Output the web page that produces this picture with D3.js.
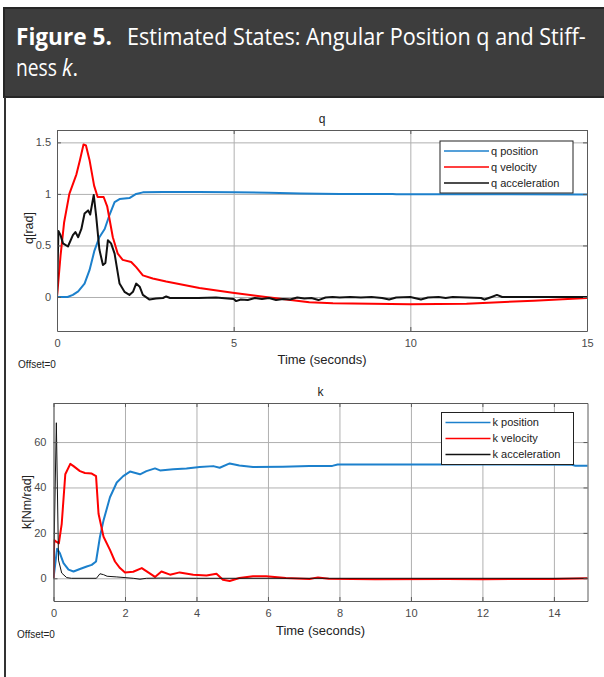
<!DOCTYPE html>
<html>
<head>
<meta charset="utf-8">
<script src="https://cdn.jsdelivr.net/npm/d3@7"></script>
<style>
  html, body { margin: 0; padding: 0; background: #fff; }
  svg { display: block; }
  .tick text { font-family: "Liberation Sans", Arial, sans-serif; font-size: 11px; fill: #4a4a4a; }
</style>
</head>
<body>
<script>
// q panel: [time (s), value]
const qPosition = [[0,0],[0.3,0],[0.45,0.02],[0.6,0.055],[0.78,0.13],[0.92,0.26],[1.06,0.45],[1.2,0.58],
  [1.35,0.66],[1.49,0.8],[1.63,0.92],[1.77,0.95],[2.05,0.96],[2.24,1.0],[2.43,1.015],[3,1.018],[4,1.018],
  [5,1.015],[6,1.012],[6.9,1.005],[8,1.0],[9.5,1.0],[9.6,0.997],[12,0.997],[15,0.995]];
const qVelocity = [[0,0],[0.1,0.4],[0.2,0.72],[0.35,1.0],[0.55,1.19],[0.65,1.33],[0.75,1.48],[0.82,1.47],
  [0.92,1.33],[1.05,1.08],[1.15,0.97],[1.32,0.97],[1.42,0.88],[1.58,0.58],[1.72,0.42],[1.86,0.36],[2.1,0.34],
  [2.24,0.29],[2.43,0.21],[2.71,0.18],[3.09,0.15],[4.03,0.087],[4.97,0.04],[5.91,0.0],[7.14,-0.05],
  [7.81,-0.06],[10,-0.07],[11.59,-0.065],[13.5,-0.036],[15,-0.01]];
const qAcceleration = [[0,0],[0.04,0.64],[0.1,0.6],[0.17,0.52],[0.31,0.49],[0.45,0.6],[0.52,0.63],[0.6,0.58],
  [0.69,0.66],[0.78,0.81],[0.88,0.84],[0.94,0.8],[1.04,0.99],[1.11,0.78],[1.2,0.46],[1.3,0.31],[1.37,0.33],
  [1.44,0.55],[1.53,0.52],[1.63,0.42],[1.77,0.13],[1.91,0.05],[2.05,0.02],[2.15,0.05],[2.24,0.13],[2.34,0.1],
  [2.43,0.02],[2.62,-0.025],[2.8,-0.015],[3.0,-0.01],[3.09,0.005],[3.2,-0.01],[4.0,-0.01],[4.5,-0.005],
  [5.0,-0.02],[5.07,-0.04],[5.2,-0.025],[5.4,-0.03],[5.6,-0.01],[5.8,-0.02],[6.0,-0.01],[6.2,-0.03],
  [6.4,-0.02],[6.6,-0.025],[6.8,-0.005],[7.0,-0.015],[7.2,-0.01],[7.4,-0.03],[7.6,-0.005],[7.8,0.0],
  [8.0,-0.005],[8.3,0.0],[8.6,-0.005],[8.9,0.0],[9.2,-0.01],[9.4,-0.025],[9.6,-0.005],[10.0,0.0],
  [10.3,-0.025],[10.5,-0.005],[10.8,0.0],[11.0,-0.01],[11.2,0.0],[11.6,-0.005],[12.0,-0.01],[12.1,-0.025],
  [12.3,0.0],[12.45,0.02],[12.6,0.0],[15,0.0]];

// k panel: [time (s), value]
const kPosition = [[0,0],[0.1,13],[0.18,11],[0.28,6.7],[0.42,3.8],[0.56,3.0],[0.74,4.1],[0.93,5.2],[1.07,5.9],
  [1.19,7.4],[1.3,18.3],[1.4,25.5],[1.58,35.7],[1.77,42.2],[1.95,45],[2.14,47],[2.42,45.8],[2.6,47.2],
  [2.84,48.4],[2.98,47.5],[3.35,48],[3.72,48.4],[4.09,49],[4.47,49.4],[4.65,48.7],[4.93,50.6],[5.2,49.7],
  [5.58,49],[6.42,49.1],[7.16,49.4],[7.8,49.5],[7.95,50.1],[10,50.1],[12,50.1],[14.5,50.0],[14.6,49.6],[15,49.6]];
const kVelocity = [[0,0],[0.02,16.8],[0.09,16],[0.15,15.4],[0.23,24],[0.33,45.8],[0.47,50.4],[0.56,49.4],
  [0.74,47.2],[0.88,46.4],[1.07,46.1],[1.19,45],[1.26,28.4],[1.4,18.3],[1.58,12.5],[1.72,7.4],[1.86,4.5],
  [2.0,2.6],[2.23,2.9],[2.47,4.5],[2.65,2.6],[2.84,0.6],[3.02,3],[3.26,1.6],[3.53,2.6],[3.91,1.6],[4.28,1.2],
  [4.56,2],[4.74,-0.6],[4.93,-1.2],[5.2,0.1],[5.58,0.9],[5.95,0.9],[6.5,0.1],[7.16,-0.3],[7.4,0.4],[7.7,-0.2],
  [9,-0.4],[11,-0.3],[12,-0.4],[14,-0.3],[15,0]];
const kAcceleration = [[0,0],[0.08,68.5],[0.14,8],[0.23,2.3],[0.37,0.3],[0.5,0],[1.2,0],[1.3,2],[1.4,1.6],
  [1.5,0.9],[1.77,0.6],[2.23,0],[2.42,-0.4],[2.6,0],[3,0.1],[4,0],[6,0],[10,0],[15,0]];

const Q_X_TICKS = [0, 5, 10, 15];
const Q_Y_TICKS = [0, 0.5, 1, 1.5];
const K_X_TICKS = [0, 2, 4, 6, 8, 10, 12, 14];
const K_Y_TICKS = [0, 20, 40, 60];
const Q_LABELS = ["q position", "q velocity", "q acceleration"];
const K_LABELS = ["k position", "k velocity", "k acceleration"];

(function () {
  const W = 604, H = 677;
  const BLUE = "#1c80cc", RED = "#ff0000", BLACK = "#111";
  const FONT = "'Liberation Sans', Arial, sans-serif";

  const svg = d3.select("body").append("svg").attr("width", W).attr("height", H);

  // Figure caption header
  svg.append("rect").attr("x", 4).attr("y", 8).attr("width", W + 10).attr("height", 89)
    .attr("fill", "#3d3d3d").attr("stroke", "#262626").attr("stroke-width", 2);
  svg.append("line").attr("x1", 5).attr("x2", 5).attr("y1", 97).attr("y2", H)
    .attr("stroke", "#333").attr("stroke-width", 2);

  // caption pieces squeezed horizontally to the reference widths
  const cap = svg.append("g").attr("fill", "#fff").attr("font-family", "'Open Sans', 'Noto Sans', sans-serif")
    .attr("font-size", 23);
  function capText(x, y, width, build) {
    const g = cap.append("g");
    const t = g.append("text");
    build(t);
    const natural = t.node().getComputedTextLength();
    g.attr("transform", `translate(${x},${y}) scale(${width / natural},1)`);
  }
  capText(16, 45, 96, t => t.attr("font-weight", "bold").text("Figure 5."));
  capText(127, 45, 459, t => t.text("Estimated States: Angular Position q and Stiff-"));
  capText(16, 76, 41, t => t.text("ness"));
  capText(62, 76, 16, t => t.append("tspan").attr("font-style", "italic").text("k")
    .select(function () { return this.parentNode; }).append("tspan").text("."));

  function panel(cfg) {
    const { left, right, top, bottom } = cfg.box;
    const x = d3.scaleLinear().domain(cfg.xDomain).range([left, right]);
    const y = d3.scaleLinear().domain(cfg.yDomain).range([bottom, top]);
    const g = svg.append("g");

    g.append("rect").attr("x", left).attr("y", top).attr("width", right - left).attr("height", bottom - top)
      .attr("fill", "#fff");

    // Grid
    g.append("g").attr("transform", `translate(0,${bottom})`)
      .call(d3.axisBottom(x).tickValues(cfg.xTicks).tickSize(-(bottom - top)).tickFormat(""))
      .call(s => s.select(".domain").remove())
      .call(s => s.selectAll("line").attr("stroke", "#b0b0b0"));
    g.append("g").attr("transform", `translate(${left},0)`)
      .call(d3.axisLeft(y).tickValues(cfg.yTicks).tickSize(-(right - left)).tickFormat(""))
      .call(s => s.select(".domain").remove())
      .call(s => s.selectAll("line").attr("stroke", "#b0b0b0"));

    // Series
    const clipId = "clip-" + cfg.title;
    svg.append("clipPath").attr("id", clipId).append("rect")
      .attr("x", left).attr("y", top).attr("width", right - left).attr("height", bottom - top);
    const line = d3.line().x(d => x(d[0])).y(d => y(d[1]));
    g.append("g").attr("clip-path", `url(#${clipId})`)
      .selectAll("path").data(cfg.series).join("path")
      .attr("d", d => line(d.data)).attr("fill", "none")
      .attr("stroke", d => d.color).attr("stroke-width", d => d.width)
      .attr("stroke-linejoin", "round");

    // Axes with inward ticks on all sides
    const styleAx = s => {
      s.select(".domain").attr("stroke", "#5a5a5a");
      s.selectAll(".tick line").attr("stroke", "#5a5a5a");
    };
    g.append("g").attr("transform", `translate(0,${bottom})`)
      .call(d3.axisBottom(x).tickValues(cfg.xTicks).tickSizeInner(-4).tickSizeOuter(0).tickPadding(8)
        .tickFormat(d3.format("~g"))).call(styleAx);
    g.append("g").attr("transform", `translate(0,${top})`)
      .call(d3.axisTop(x).tickValues(cfg.xTicks).tickSizeInner(-4).tickSizeOuter(0).tickFormat("")).call(styleAx);
    g.append("g").attr("transform", `translate(${left},0)`)
      .call(d3.axisLeft(y).tickValues(cfg.yTicks).tickSizeInner(-4).tickSizeOuter(0).tickPadding(cfg.yPad)
        .tickFormat(d3.format("~g"))).call(styleAx);
    g.append("g").attr("transform", `translate(${right},0)`)
      .call(d3.axisRight(y).tickValues(cfg.yTicks).tickSizeInner(-4).tickSizeOuter(0).tickFormat("")).call(styleAx);

    // Texts
    g.append("text").attr("x", (left + right) / 2).attr("y", top - 7).attr("text-anchor", "middle")
      .attr("font-family", FONT).attr("font-size", 12).attr("fill", "#222").text(cfg.title);
    g.append("text").attr("x", (left + right) / 2).attr("y", cfg.xLabelY).attr("text-anchor", "middle")
      .attr("font-family", FONT).attr("font-size", 13).attr("fill", "#222").text("Time (seconds)");
    g.append("text").attr("transform", `translate(${cfg.yLabelX},${cfg.yLabelCy}) rotate(-90)`)
      .attr("text-anchor", "middle").attr("font-family", FONT).attr("font-size", 12.5).attr("fill", "#222")
      .text(cfg.yLabel);
    g.append("text").attr("x", cfg.offsetX).attr("y", cfg.offsetY)
      .attr("font-family", FONT).attr("font-size", 10).attr("fill", "#222").text("Offset=0");

    // Legend
    const L = cfg.legend;
    const lg = g.append("g");
    lg.append("rect").attr("x", L.x).attr("y", L.y).attr("width", L.w).attr("height", 52)
      .attr("fill", "#fff").attr("stroke", "#222").attr("stroke-width", 1);
    const rows = lg.selectAll("g.row").data(cfg.series).join("g").attr("class", "row")
      .attr("transform", (d, i) => `translate(${L.x},${L.y + 10 + i * 16})`);
    rows.append("line").attr("x1", 4).attr("x2", 49).attr("stroke", d => d.color).attr("stroke-width", 1.5);
    rows.append("text").attr("x", 51).attr("dy", "0.35em").attr("font-family", FONT).attr("font-size", 11)
      .attr("fill", "#222").text((d, i) => cfg.labels[i]);
  }

  panel({
    box: { left: 57, right: 587, top: 130, bottom: 331 },
    xDomain: [0, 15], yDomain: [-0.33, 1.62],
    xTicks: Q_X_TICKS, yTicks: Q_Y_TICKS, yPad: 6,
    title: "q", yLabel: "q[rad]", yLabelX: 33, yLabelCy: 228,
    xLabelY: 364, offsetX: 18, offsetY: 368,
    labels: Q_LABELS,
    legend: { x: 440, y: 141, w: 133 },
    series: [
      { data: qPosition, color: BLUE, width: 2 },
      { data: qVelocity, color: RED, width: 2 },
      { data: qAcceleration, color: BLACK, width: 2 }
    ]
  });

  panel({
    box: { left: 53.5, right: 587.5, top: 403, bottom: 601 },
    xDomain: [0, 14.94], yDomain: [-10, 77.2],
    xTicks: K_X_TICKS, yTicks: K_Y_TICKS, yPad: 7,
    title: "k", yLabel: "k[Nm/rad]", yLabelX: 31, yLabelCy: 502,
    xLabelY: 635, offsetX: 17, offsetY: 638,
    labels: K_LABELS,
    legend: { x: 441.5, y: 412.5, w: 132 },
    series: [
      { data: kPosition, color: BLUE, width: 2 },
      { data: kVelocity, color: RED, width: 2 },
      { data: kAcceleration, color: BLACK, width: 1 }
    ]
  });
})();
</script>
</body>
</html>
